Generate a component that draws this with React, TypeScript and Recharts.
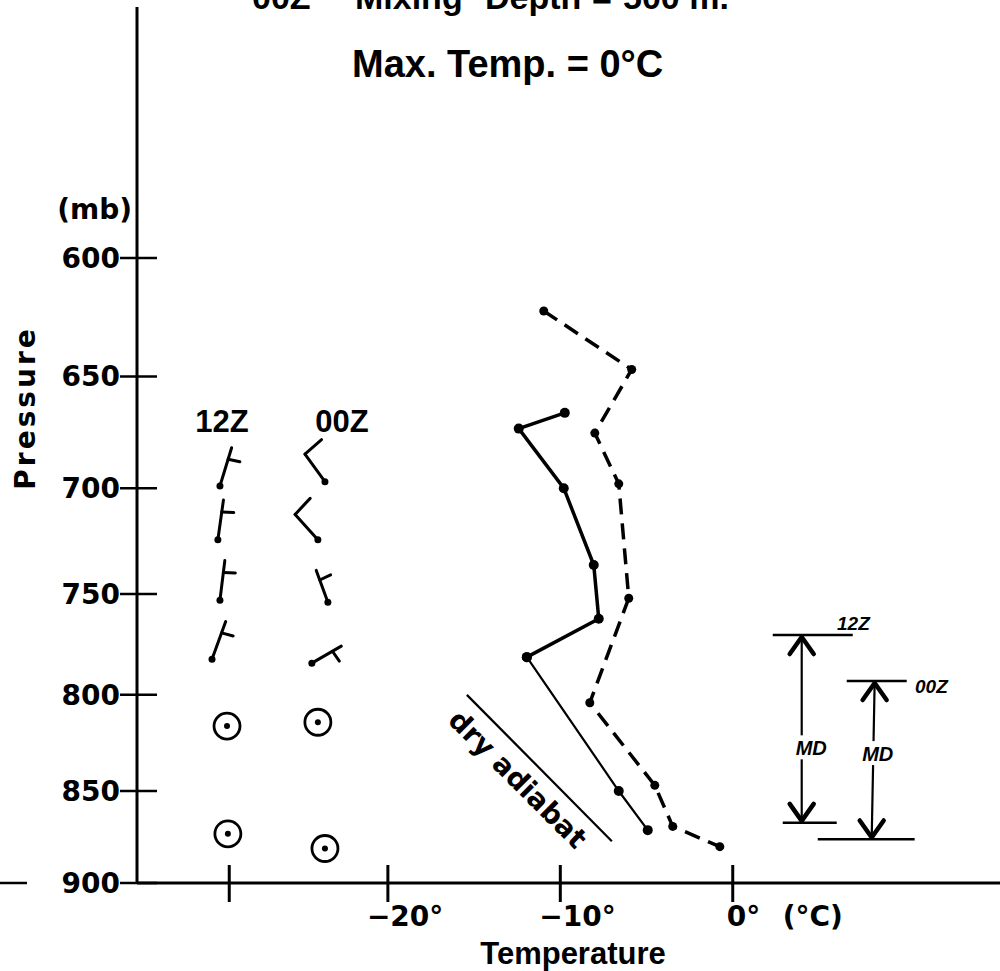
import React from 'react';
import { ComposedChart, Line, XAxis, YAxis } from 'recharts';

// ---------- data (temperature °C, pressure mb) ----------
const profile12Z = [
  { t: -9.74, p: 666 },
  { t: -12.41, p: 673 },
  { t: -9.8, p: 700 },
  { t: -8.06, p: 736 },
  { t: -7.77, p: 762 },
  { t: -11.94, p: 781 },
  { t: -6.61, p: 850 },
  { t: -4.93, p: 871 },
];
const profile00Z = [
  { t: -10.96, p: 622 },
  { t: -5.86, p: 647 },
  { t: -8.0, p: 675 },
  { t: -6.61, p: 698 },
  { t: -6.03, p: 752 },
  { t: -8.29, p: 804 },
  { t: -4.52, p: 847 },
  { t: -3.48, p: 869 },
  { t: -0.75, p: 880 },
];
const dryAdiabat = [
  { t: -15.42, p: 800 },
  { t: -7.01, p: 877 },
];
// wind barbs: direction (deg, wind from), speed (kt)
const winds12Z = [
  { t: -29.74, p: 699, dir: 17, speed: 5 },
  { t: -29.86, p: 724, dir: 8, speed: 5 },
  { t: -29.74, p: 753, dir: 7, speed: 5 },
  { t: -30.2, p: 782, dir: 20, speed: 5 },
];
const winds00Z = [
  { t: -23.65, p: 697, dir: 324, speed: 10 },
  { t: -24.06, p: 724, dir: 318, speed: 10 },
  { t: -23.48, p: 754, dir: 340, speed: 5 },
  { t: -24.41, p: 784, dir: 60, speed: 5 },
];
const calm12Z = [
  { t: -29.33, p: 816 },
  { t: -29.28, p: 873 },
];
const calm00Z = [
  { t: -24.06, p: 814 },
  { t: -23.65, p: 881 },
];
// mixing depth annotation
const mixTop12Z = [
  { t: 2.32, p: 770 },
  { t: 6.96, p: 770 },
];
const mixBase12Z = [
  { t: 2.9, p: 867 },
  { t: 6.03, p: 867 },
];
const mixArrow12Z = [
  { t: 4.0, p: 771 },
  { t: 4.0, p: 866 },
];
const mixTop00Z = [
  { t: 6.61, p: 793 },
  { t: 10.09, p: 793 },
];
const mixBase00Z = [
  { t: 4.93, p: 876 },
  { t: 10.55, p: 876 },
];
const mixArrow00Z = [
  { t: 8.23, p: 794 },
  { t: 8.06, p: 875 },
];
const mdLabels = [
  { t: 4.55, p: 827 },
  { t: 8.41, p: 830 },
];

const pressureTicks = [600, 650, 700, 750, 800, 850, 900];
const temperatureTicks = [-29.2, -20, -10, 0];
const temperatureTickLabels = ['', '\u221220\u00b0', '\u221210\u00b0', '0\u00b0'];

const PRESSURE_TOP = 503.6;
const PRESSURE_BOTTOM = 900;
const T_MIN = -34.55;
const T_MAX = 15.5;

// hand-drawn pressure axis: quarter-power spacing
const pScale = (p: number) => Math.pow(p, 0.25);
const yKey = (d: any) => pScale(d.p);

const BOLD_DV = 'DejaVu Sans, sans-serif';
const BOLD_LS = 'Liberation Sans, Arial, sans-serif';

const XTick = (props: any) => {
  const { x, y, index } = props;
  const lab = temperatureTickLabels[index] ?? '';
  const isZero = lab === '0\u00b0';
  return (
    <g>
      <line x1={x} x2={x} y1={y - 18} y2={y + 19} stroke="#000" strokeWidth={3} />
      {lab && (
        <text
          x={isZero ? x - 6 : x - 21}
          y={y + 43}
          textAnchor="start"
          fontFamily={BOLD_DV}
          fontWeight="bold"
          fontSize={28}
          fill="#000"
        >
          {lab}
        </text>
      )}
      {isZero && (
        <text x={x + 50} y={y + 43} textAnchor="start" fontFamily={BOLD_DV} fontWeight="bold" fontSize={28} fill="#000">
          (°C)
        </text>
      )}
    </g>
  );
};

const YTick = (props: any) => {
  const { x, y, payload } = props;
  const label = Math.round(Math.pow(payload.value, 4));
  return (
    <g>
      <line x1={x - 17} x2={x + 20} y1={y} y2={y} stroke="#000" strokeWidth={2.5} />
      <text x={x - 17} y={y + 10} textAnchor="end" fontFamily={BOLD_DV} fontWeight="bold" fontSize={28} fill="#000">
        {label}
      </text>
    </g>
  );
};

const Barb = (props: any, len: number) => {
  const { cx, cy, payload, index } = props;
  if (cx == null || cy == null) return <g key={`b${index}`} />;
  const th = (payload.dir * Math.PI) / 180;
  const ux = Math.sin(th);
  const uy = -Math.cos(th);
  const tipX = cx + len * ux;
  const tipY = cy + len * uy;
  const bth = th + (85 * Math.PI) / 180;
  const bx = Math.sin(bth);
  const by = -Math.cos(bth);
  const parts: any[] = [];
  let speed = payload.speed;
  let pos = 0;
  let k = 0;
  while (speed >= 10) {
    const sx = tipX - pos * ux;
    const sy = tipY - pos * uy;
    parts.push(<line key={`f${k++}`} x1={sx} y1={sy} x2={sx + 22 * bx} y2={sy + 22 * by} stroke="#000" strokeWidth={3} strokeLinecap="round" />);
    pos += 7;
    speed -= 10;
  }
  if (speed >= 5) {
    if (pos === 0) pos = 0.3 * len;
    const sx = tipX - pos * ux;
    const sy = tipY - pos * uy;
    parts.push(<line key={`h${k++}`} x1={sx} y1={sy} x2={sx + 12 * bx} y2={sy + 12 * by} stroke="#000" strokeWidth={3} strokeLinecap="round" />);
  }
  return (
    <g key={`b${index}`}>
      <line x1={cx} y1={cy} x2={tipX} y2={tipY} stroke="#000" strokeWidth={3} strokeLinecap="round" />
      <circle cx={cx} cy={cy} r={3.5} fill="#000" />
      {parts}
    </g>
  );
};

const Calm = (props: any) => {
  const { cx, cy, index } = props;
  if (cx == null || cy == null) return <g key={`c${index}`} />;
  return (
    <g key={`c${index}`}>
      <circle cx={cx} cy={cy} r={13} fill="none" stroke="#000" strokeWidth={2.8} />
      <circle cx={cx} cy={cy} r={3} fill="#000" />
    </g>
  );
};

const ArrowHeads = (props: any) => {
  const { cx, cy, index } = props;
  if (cx == null || cy == null) return <g key={`a${index}`} />;
  const s = index === 0 ? 1 : -1;
  return (
    <path
      key={`a${index}`}
      d={`M${cx - 12},${cy + s * 17} L${cx},${cy} L${cx + 12},${cy + s * 17}`}
      fill="none"
      stroke="#000"
      strokeWidth={4.5}
      strokeLinejoin="round"
      strokeLinecap="round"
    />
  );
};

const MdLabel = (props: any) => {
  const { cx, cy, index } = props;
  if (cx == null || cy == null) return <g key={`m${index}`} />;
  return (
    <g key={`m${index}`}>
      <rect x={cx - 17} y={cy - 12} width={34} height={24} fill="#fff" />
      <text x={cx} y={cy + 8} textAnchor="middle" fontFamily={BOLD_LS} fontWeight="bold" fontStyle="italic" fontSize={20} fill="#000">
        MD
      </text>
    </g>
  );
};

const Dot = (r: number) => (props: any) => {
  const { cx, cy, index } = props;
  if (cx == null || cy == null) return <g key={`d${index}`} />;
  return <circle key={`d${index}`} cx={cx} cy={cy} r={r} fill="#000" />;
};

export default function App() {
  return (
    <div style={{ position: 'absolute', left: 0, top: 0, width: 1000, height: 971, background: '#fff' }}>
      <ComposedChart width={1000} height={971} margin={{ top: 7, right: 0, bottom: 87, left: 136 }}>
        <XAxis
          type="number"
          dataKey="t"
          domain={[T_MIN, T_MAX]}
          allowDataOverflow
          ticks={temperatureTicks}
          interval={0}
          height={1}
          tickSize={0}
          tickMargin={0}
          tickLine={false}
          axisLine={{ stroke: '#000', strokeWidth: 3 }}
          tick={<XTick />}
        />
        <YAxis
          type="number"
          domain={[pScale(PRESSURE_TOP), pScale(PRESSURE_BOTTOM)]}
          allowDataOverflow
          reversed
          ticks={pressureTicks.map(pScale)}
          interval={0}
          width={1}
          tickSize={0}
          tickMargin={0}
          tickLine={false}
          axisLine={{ stroke: '#000', strokeWidth: 3 }}
          tick={<YTick />}
        />

        <Line data={dryAdiabat} dataKey={yKey} stroke="#000" strokeWidth={2.2} dot={false} activeDot={false} isAnimationActive={false} />
        <Line data={profile00Z} dataKey={yKey} stroke="#000" strokeWidth={3.5} strokeDasharray="16 9" dot={Dot(4.5)} activeDot={false} isAnimationActive={false} />
        <Line data={profile12Z.slice(0, 6)} dataKey={yKey} stroke="#000" strokeWidth={3.5} dot={Dot(5)} activeDot={false} isAnimationActive={false} />
        <Line data={profile12Z.slice(5)} dataKey={yKey} stroke="#000" strokeWidth={2.2} dot={Dot(5)} activeDot={false} isAnimationActive={false} />

        <Line data={winds12Z} dataKey={yKey} stroke="none" dot={(p: any) => Barb(p, 40)} activeDot={false} isAnimationActive={false} />
        <Line data={winds00Z} dataKey={yKey} stroke="none" dot={(p: any) => Barb(p, 34)} activeDot={false} isAnimationActive={false} />
        <Line data={calm12Z} dataKey={yKey} stroke="none" dot={Calm} activeDot={false} isAnimationActive={false} />
        <Line data={calm00Z} dataKey={yKey} stroke="none" dot={Calm} activeDot={false} isAnimationActive={false} />

        <Line data={mixTop12Z} dataKey={yKey} stroke="#000" strokeWidth={2.5} dot={false} activeDot={false} isAnimationActive={false} />
        <Line data={mixBase12Z} dataKey={yKey} stroke="#000" strokeWidth={2.5} dot={false} activeDot={false} isAnimationActive={false} />
        <Line data={mixArrow12Z} dataKey={yKey} stroke="#000" strokeWidth={2.2} dot={ArrowHeads} activeDot={false} isAnimationActive={false} />
        <Line data={mixTop00Z} dataKey={yKey} stroke="#000" strokeWidth={2.5} dot={false} activeDot={false} isAnimationActive={false} />
        <Line data={mixBase00Z} dataKey={yKey} stroke="#000" strokeWidth={2.5} dot={false} activeDot={false} isAnimationActive={false} />
        <Line data={mixArrow00Z} dataKey={yKey} stroke="#000" strokeWidth={2.2} dot={ArrowHeads} activeDot={false} isAnimationActive={false} />
        <Line data={mdLabels} dataKey={yKey} stroke="none" dot={MdLabel} activeDot={false} isAnimationActive={false} />

        {/* titles & annotation text */}
        <text y={9} fontFamily={BOLD_LS} fontWeight="bold" fontSize={34} fill="#000">
          <tspan x={252}>00Z</tspan>
          <tspan x={355}>Mixing</tspan>
          <tspan x={485}>Depth</tspan>
          <tspan x={592}>=</tspan>
          <tspan x={623}>500 m.</tspan>
        </text>
        <text x={352} y={77} fontFamily={BOLD_LS} fontWeight="bold" fontSize={38} fill="#000">
          Max. Temp. = 0°C
        </text>
        <text x={132} y={219} textAnchor="end" fontFamily={BOLD_DV} fontWeight="bold" fontSize={28} fill="#000">
          (mb)
        </text>
        <text
          x={35}
          y={408}
          transform="rotate(-90, 35, 408)"
          textAnchor="middle"
          fontFamily={BOLD_DV}
          fontWeight="bold"
          fontSize={28}
          letterSpacing={3}
          fill="#000"
        >
          Pressure
        </text>
        <text x={573} y={964} textAnchor="middle" fontFamily={BOLD_LS} fontWeight="bold" fontSize={31} fill="#000">
          Temperature
        </text>
        <text x={222} y={432} textAnchor="middle" fontFamily={BOLD_LS} fontWeight="bold" fontSize={31} fill="#000">
          12Z
        </text>
        <text x={342} y={432} textAnchor="middle" fontFamily={BOLD_LS} fontWeight="bold" fontSize={31} fill="#000">
          00Z
        </text>
        <text
          x={511}
          y={786}
          transform="rotate(45, 511, 786)"
          textAnchor="middle"
          fontFamily={BOLD_DV}
          fontWeight="bold"
          fontSize={28}
          fill="#000"
        >
          dry adiabat
        </text>
        <text x={837} y={630} fontFamily={BOLD_LS} fontWeight="bold" fontStyle="italic" fontSize={19} fill="#000">
          12Z
        </text>
        <text x={915} y={693} fontFamily={BOLD_LS} fontWeight="bold" fontStyle="italic" fontSize={19} fill="#000">
          00Z
        </text>
        <line x1={0} x2={27} y1={883} y2={883} stroke="#000" strokeWidth={2.5} />
      </ComposedChart>
    </div>
  );
}
